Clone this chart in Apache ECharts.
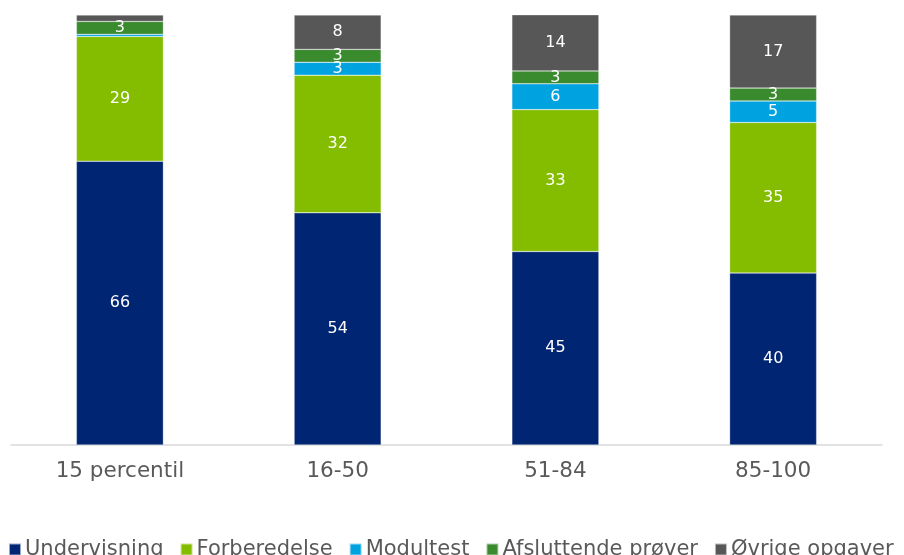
<!DOCTYPE html>
<html>
<head>
<meta charset="utf-8">
<script src="https://cdn.jsdelivr.net/npm/echarts@6/dist/echarts.min.js"></script>
<style>
  html, body { margin: 0; padding: 0; background: #fff; }
  #chart { width: 904px; height: 555px; }
</style>
</head>
<body>
<div id="chart"></div>
<script>
// Categories (percentile groups)
const categories = ['15 percentil', '16-50', '51-84', '85-100'];

// Share of time per activity (%)
const undervisning = [66, 54, 45, 40];
const forberedelse = [29, 32, 33, 35];
const modultest = [0.5, 3, 6, 5];
const afsluttende = [3, 3, 3, 3];
const oevrige = [1.5, 8, 14, 17];

const seriesNames = ['Undervisning', 'Forberedelse', 'Modultest', 'Afsluttende prøver', 'Øvrige opgaver'];
const seriesData = [undervisning, forberedelse, modultest, afsluttende, oevrige];
const colors = ['#002673', '#84BD00', '#00A3E0', '#3A8A2E', '#575757'];

const FONT = 'DejaVu Sans';

const chart = echarts.init(document.getElementById('chart'), null, { renderer: 'canvas' });

chart.setOption({
  animation: false,
  color: colors,
  textStyle: { fontFamily: FONT },
  grid: { left: 11, right: 22, top: 15, bottom: 110, containLabel: false },
  legend: {
    top: 534,
    left: 3,
    width: 904,
    itemWidth: 12,
    itemHeight: 12,
    itemGap: 16,
    icon: 'rect',
    textStyle: { fontFamily: FONT, fontSize: 21, color: '#595959', padding: [0, 0, 0, -1] },
    data: seriesNames
  },
  xAxis: {
    type: 'category',
    data: categories,
    axisLine: { lineStyle: { color: '#d9d9d9', width: 1.5 } },
    axisTick: { show: false },
    axisLabel: { fontFamily: FONT, fontSize: 21.5, color: '#595959', margin: 15 }
  },
  yAxis: {
    type: 'value',
    min: 0,
    max: 100,
    show: false
  },
  series: seriesData.map((d, i) => ({
    name: seriesNames[i],
    type: 'bar',
    stack: 'total',
    barWidth: 87,
    clip: true,
    data: d,
    itemStyle: { borderColor: 'rgba(255,255,255,0.6)', borderWidth: 0.5 },
    label: {
      show: true,
      position: 'inside',
      color: '#fff',
      fontFamily: FONT,
      fontSize: 16,
      formatter: p => (p.value >= 2 ? String(p.value) : '')
    }
  }))
});
</script>
</body>
</html>
